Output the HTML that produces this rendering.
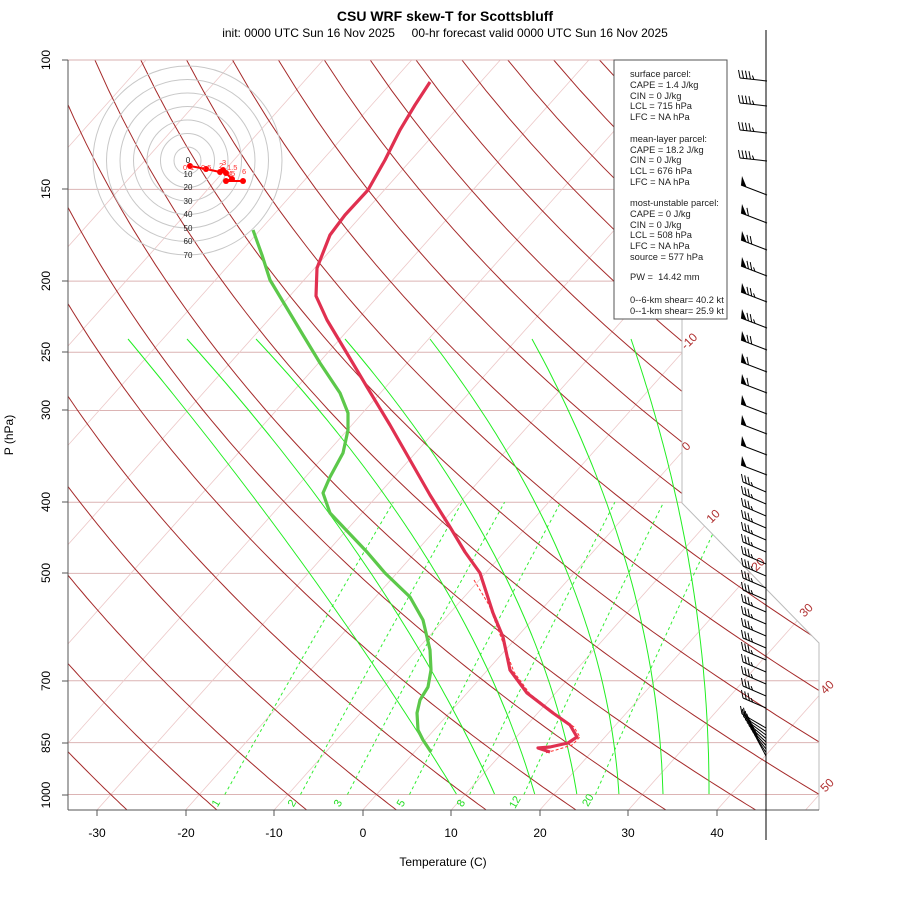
<!DOCTYPE html>
<html><head><meta charset="utf-8"><style>
html,body{margin:0;padding:0;background:#fff;}
svg{display:block;font-family:"Liberation Sans",sans-serif;}
</style></head><body>
<svg id="s" width="900" height="900" viewBox="0 0 900 900" xmlns="http://www.w3.org/2000/svg">
<defs><clipPath id="fr"><polygon points="68,60 682,60 682,503 819,643 819,810 68,810"/></clipPath></defs>
<g id="grid" clip-path="url(#fr)"></g>
<polyline points="682,60 682,503 819,643 819,810" fill="none" stroke="#bbb" stroke-width="1"/>
<line x1="68" y1="60" x2="682" y2="60" stroke="#d8b0b0"/>
<line x1="68" y1="810" x2="819" y2="810" stroke="#d8b0b0"/>
<g id="prof" clip-path="url(#fr)"></g>
<g id="hodo"></g>
<g font-size="8" fill="#222" text-anchor="middle">
<text x="188" y="163">0</text><text x="188" y="177">10</text><text x="188" y="190">20</text><text x="188" y="204">30</text><text x="188" y="217">40</text><text x="188" y="231">50</text><text x="188" y="244">60</text><text x="188" y="258">70</text>
</g>
<g font-size="7.5" fill="#f33">
<text x="183" y="170">0</text><text x="190" y="170">1</text><text x="201" y="170">0.5</text><text x="219" y="168">2</text><text x="222" y="165">3</text><text x="227" y="170">1.5</text><text x="228" y="176">4</text><text x="231" y="176">5</text><text x="242" y="174">6</text>
</g>
<line x1="68" y1="60" x2="68" y2="810" stroke="#555"/>
<line x1="68" y1="810" x2="819" y2="810" stroke="#555"/>
<g stroke="#555" id="ticks"></g>
<g font-size="12" fill="#000" text-anchor="middle">
<text transform="translate(50,60) rotate(-90)">100</text>
<text transform="translate(50,189) rotate(-90)">150</text>
<text transform="translate(50,281) rotate(-90)">200</text>
<text transform="translate(50,352) rotate(-90)">250</text>
<text transform="translate(50,410) rotate(-90)">300</text>
<text transform="translate(50,502) rotate(-90)">400</text>
<text transform="translate(50,573) rotate(-90)">500</text>
<text transform="translate(50,681) rotate(-90)">700</text>
<text transform="translate(50,743) rotate(-90)">850</text>
<text transform="translate(50,795) rotate(-90)">1000</text>
<text x="97" y="837">-30</text><text x="186" y="837">-20</text><text x="274" y="837">-10</text><text x="363" y="837">0</text><text x="451" y="837">10</text><text x="540" y="837">20</text><text x="628" y="837">30</text><text x="717" y="837">40</text>
<text x="443" y="866">Temperature (C)</text>
<text transform="translate(13,435) rotate(-90)">P (hPa)</text>
<text x="445" y="21" font-weight="bold" font-size="14">CSU WRF skew-T for Scottsbluff</text>
<text x="445" y="37" font-size="12">init: 0000 UTC Sun 16 Nov 2025&#160;&#160;&#160;&#160; 00-hr forecast valid 0000 UTC Sun 16 Nov 2025</text>
</g>
<g font-size="12" fill="#b03030" text-anchor="middle">
<text transform="translate(692,344) rotate(-45)">-10</text>
<text transform="translate(689,449) rotate(-45)">0</text>
<text transform="translate(716,519) rotate(-45)">10</text>
<text transform="translate(761,567) rotate(-45)">20</text>
<text transform="translate(809,613) rotate(-45)">30</text>
<text transform="translate(830,690) rotate(-45)">40</text>
<text transform="translate(830,788) rotate(-45)">50</text>
</g>
<g font-size="11" fill="#2d2" text-anchor="middle">
<text transform="translate(219,805) rotate(-60)">1</text>
<text transform="translate(295,805) rotate(-60)">2</text>
<text transform="translate(341,805) rotate(-60)">3</text>
<text transform="translate(404,805) rotate(-60)">5</text>
<text transform="translate(464,805) rotate(-60)">8</text>
<text transform="translate(518,804) rotate(-60)">12</text>
<text transform="translate(591,802) rotate(-60)">20</text>
</g>
<rect x="614" y="60" width="113" height="259" fill="#fff" stroke="#555"/>
<g font-size="9.3" fill="#222">
<text x="630" y="77">surface parcel:</text>
<text x="630" y="88">CAPE = 1.4 J/kg</text>
<text x="630" y="99">CIN = 0 J/kg</text>
<text x="630" y="109">LCL = 715 hPa</text>
<text x="630" y="120">LFC = NA hPa</text>
<text x="630" y="142">mean-layer parcel:</text>
<text x="630" y="153">CAPE = 18.2 J/kg</text>
<text x="630" y="163">CIN = 0 J/kg</text>
<text x="630" y="174">LCL = 676 hPa</text>
<text x="630" y="185">LFC = NA hPa</text>
<text x="630" y="206">most-unstable parcel:</text>
<text x="630" y="217">CAPE = 0 J/kg</text>
<text x="630" y="228">CIN = 0 J/kg</text>
<text x="630" y="238">LCL = 508 hPa</text>
<text x="630" y="249">LFC = NA hPa</text>
<text x="630" y="260">source = 577 hPa</text>
<text x="630" y="280">PW = &#160;14.42 mm</text>
<text x="630" y="303">0--6-km shear= 40.2 kt</text>
<text x="630" y="314">0--1-km shear= 25.9 kt</text>
</g>
<line x1="766" y1="30" x2="766" y2="840" stroke="#000"/>
<g id="barbs" stroke="#000" stroke-width="1" fill="#000"></g>
</svg>
<script>
var NS="http://www.w3.org/2000/svg";
function el(p,t,a){var e=document.createElementNS(NS,t);for(var k in a)e.setAttribute(k,a[k]);document.getElementById(p).appendChild(e);return e;}
function Y(p){return 60+319*Math.log(p/100);}
function X(T,y){return 362.7+8.857*T+0.892*(810-y);}
function pl(p,pts,st){el(p,'polyline',Object.assign({points:pts.map(function(q){return q[0].toFixed(1)+','+q[1].toFixed(1)}).join(' '),fill:'none'},st));}
[100,150,200,250,300,400,500,700,850,1000].forEach(function(p){var y=Y(p);el('grid','line',{x1:68,y1:y,x2:820,y2:y,stroke:'#dcb4b4','stroke-width':1});});
for(var T=-120;T<=60;T+=10){el('grid','line',{x1:X(T,810),y1:810,x2:X(T,60),y2:60,stroke:'#ecc8c8','stroke-width':0.8});}
for(var th=-40;th<=180;th+=10){var pts=[];for(var p=1050;p>=100;p-=10){var t=(th+273.15)*Math.pow(p/1000,0.2857)-273.15;var y=Y(p);pts.push([X(t,y),y]);}pl('grid',pts,{stroke:'#a52a2a','stroke-width':1});}
[1,2,3,5,8,12,20].forEach(function(w){var pts=[];for(var p=1000;p>=400;p-=10){var e=w*p/(622+w);var a=Math.log(e/6.112);var t=243.5*a/(17.67-a);var y=Y(p);pts.push([X(t,y),y]);}pl('grid',pts,{stroke:'#33ee33','stroke-width':1,'stroke-dasharray':'3,3'});});
[[128,300,457],[187,362,495],[256,428,535],[345,497,577]].forEach(function(a){quad(a,339,560,795);});
[[430,523,619],[532,598,663],[631,672,709]].forEach(function(a){quad(a,339,480,795);});
function quad(a,y0,y1,y2){var pts=[];for(var y=y0;y<=y2;y+=5){var L0=(y-y1)*(y-y2)/((y0-y1)*(y0-y2)),L1=(y-y0)*(y-y2)/((y1-y0)*(y1-y2)),L2=(y-y0)*(y-y1)/((y2-y0)*(y2-y1));pts.push([a[0]*L0+a[1]*L1+a[2]*L2,y]);}pl('grid',pts,{stroke:'#22ee22','stroke-width':1});}
pl('prof',[[474,580],[489,605],[502,640],[514,672],[530,694],[556,714],[574,727],[580,737],[572,745],[556,750],[545,753]],{stroke:'#f33','stroke-width':1,'stroke-dasharray':'3,2'});
pl('prof',[[430,82],[415,105],[400,130],[385,160],[368,190],[345,215],[330,235],[317,268],[316,296],[327,320],[345,350],[367,387],[390,425],[410,460],[430,495],[450,527],[465,552],[480,573],[493,613],[503,637],[510,670],[527,693],[553,713],[570,725],[577,737],[568,743],[550,747],[538,748],[550,752]],{stroke:'#e03050','stroke-width':3.2,'stroke-linejoin':'round'});
pl('prof',[[253,230],[262,255],[270,280],[285,305],[303,335],[320,363],[340,393],[348,413],[348,430],[343,453],[330,477],[323,493],[330,513],[348,532],[367,552],[385,573],[410,597],[423,620],[430,650],[431,670],[428,687],[420,700],[417,713],[418,730],[423,740],[431,752]],{stroke:'#5cc84a','stroke-width':3.2,'stroke-linejoin':'round'});
[60,189,281,352,410,502,573,681,743,795].forEach(function(y){el('ticks','line',{x1:62,y1:y,x2:68,y2:y});});
[97,186,274,363,451,540,628,717].forEach(function(x){el('ticks','line',{x1:x,y1:810,x2:x,y2:816});});
for(var k=1;k<=7;k++)el('hodo','circle',{cx:187.5,cy:160.5,r:13.5*k,fill:'none',stroke:'#c8c8c8','stroke-width':1});
var hp=[[190,166],[206,169],[220,172],[223,170],[226,173],[232,179],[226,181],[243,181]];
pl('hodo',hp,{stroke:'#f00','stroke-width':2});
hp.forEach(function(q){el('hodo','circle',{cx:q[0],cy:q[1],r:3,fill:'#f00'});});
function barb(x1,y1,x2,y2,nt,flag){el('barbs','line',{x1:x1,y1:y1,x2:x2,y2:y2});var dx=(x1-x2),dy=(y1-y2),L=Math.hypot(dx,dy);dx/=L;dy/=L;var s=0;
if(flag){el('barbs','polygon',{points:x2+','+y2+' '+(x2+6*dx)+','+(y2+6*dy)+' '+(x2+1)+','+(y2-9),stroke:'none'});s=8;}
for(var i=0;i<nt;i++){var bx=x2+(s+i*3.5)*dx,by=y2+(s+i*3.5)*dy;var len=(i==nt-1&&nt>2)?4:8;el('barbs','line',{x1:bx,y1:by,x2:bx-1.5,y2:by-len});}}
[78,103,130,158].forEach(function(y){barb(767,y+3,740,y,5,false);});
[[185,0],[213,1],[240,2],[266,3],[292,3],[318,3],[340,2],[362,1],[383,1],[404,0],[424,0],[445,0],[465,0]].forEach(function(a){barb(767,a[0]+10,741,a[0],a[1],true);});
for(var y=482;y<=706;y+=12){barb(766,y+10,743,y,4,false);}
for(var i=0;i<9;i++){var yy=714+i*3;barb(766,728+i*3.5,742+i*1.8,yy,3,false);}
</script>
</body></html>
